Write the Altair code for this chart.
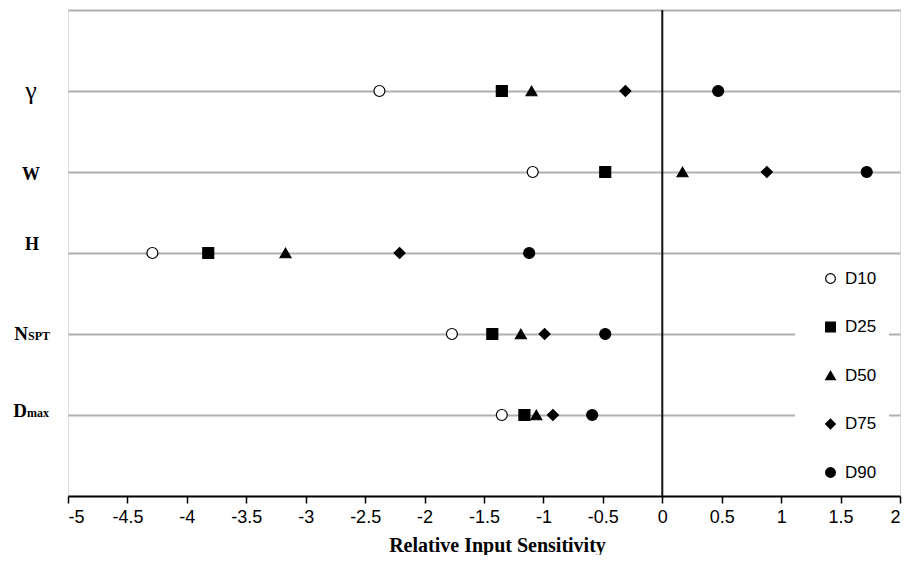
import altair as alt
import pandas as pd

# ---- data ----
params = ["γ", "W", "H", "NSPT", "Dmax"]
rows = [5, 4, 3, 2, 1]
series = ["D10", "D25", "D50", "D75", "D90"]
d10 = [-2.38, -1.09, -4.29, -1.77, -1.35]
d25 = [-1.35, -0.48, -3.82, -1.43, -1.16]
d50 = [-1.10, 0.17, -3.17, -1.19, -1.06]
d75 = [-0.31, 0.88, -2.21, -0.99, -0.92]
d90 = [0.47, 1.72, -1.12, -0.48, -0.59]
x_ticks = [-5, -4.5, -4, -3.5, -3, -2.5, -2, -1.5, -1, -0.5, 0, 0.5, 1, 1.5, 2]
grid_rows = [1, 2, 3, 4, 5, 6]
main_labels = ["γ", "W", "H", "N", "D"]
sub_labels = ["", "", "", "SPT", "max"]

records = []
for s, vals in zip(series, [d10, d25, d50, d75, d90]):
    for p, r, v in zip(params, rows, vals):
        records.append({"param": p, "row": r, "series": s, "value": v})
df = pd.DataFrame(records)
lab_df = pd.DataFrame({"main": main_labels, "sub": sub_labels, "row": rows})
zero_df = pd.DataFrame({"zero": [0]})

x_scale = alt.Scale(domain=[-5, 2], nice=False, zero=False)
y_scale = alt.Scale(domain=[0, 6], nice=False, zero=False)

legend = alt.Legend(
    title=None, orient="none", legendX=727, legendY=248, direction="vertical",
    fillColor="white", padding=12, symbolOffset=15, rowPadding=30.5,
    labelFont="Liberation Sans", labelFontSize=17, labelColor="black", labelOffset=6,
    symbolSize=95, symbolStrokeColor="black", symbolStrokeWidth=1.2,
    symbolOpacity=1, zindex=1,
)

points = alt.Chart(df).mark_point(
    filled=True, opacity=1, size=120, strokeWidth=1.2
).encode(
    x=alt.X("value:Q", scale=x_scale, axis=alt.Axis(
        values=x_ticks, title="Relative Input Sensitivity", grid=False,
        labelExpr="datum.value + ''",
        domainColor="black", domainWidth=2, tickColor="black", tickWidth=1.5, tickSize=7,
        labelFont="Liberation Sans", labelFontSize=18, labelColor="black", labelPadding=5,
        titleFont="Liberation Serif", titleFontSize=20, titleFontWeight="bold",
        titleColor="black", titleX=429, titleY=55, titleBaseline="alphabetic",
        titleAlign="center", titleAnchor="start",
    )),
    y=alt.Y("row:Q", scale=y_scale, axis=alt.Axis(
        values=grid_rows, grid=True, gridColor="#b0b0b0", gridWidth=2,
        labels=False, ticks=False, domain=False, title=None,
    )),
    shape=alt.Shape("series:N", scale=alt.Scale(
        domain=series, range=["circle", "square", "triangle-up", "diamond", "circle"]),
        legend=legend),
    fill=alt.Fill("series:N", scale=alt.Scale(
        domain=series, range=["white", "black", "black", "black", "black"]),
        legend=legend),
    stroke=alt.Stroke("series:N", scale=alt.Scale(
        domain=series, range=["black", "black", "black", "black", "black"]),
        legend=legend),
)

zero_rule = alt.Chart(zero_df).mark_rule(color="#111111", strokeWidth=2).encode(
    x=alt.X("zero:Q", scale=x_scale)
)

# per-label text styles: (main, xpx, align, font size, weight, dy)
label_styles = [
    ("γ", -37, "center", 26, "normal", 8),
    ("W", -37, "center", 18, "bold", 8),
    ("H", -36, "center", 18, "bold", -3),
    ("N", -40, "right", 19, "bold", 6),
    ("D", -41, "right", 19, "bold", 2),
]
label_layers = []
for m, xp, al, fs, fw, dy in label_styles:
    base = alt.Chart(lab_df).transform_filter(alt.datum.main == m)
    label_layers.append(
        base.mark_text(font="Liberation Serif", fontSize=fs, fontWeight=fw,
                       align=al, baseline="alphabetic", dy=dy, color="black")
        .encode(x=alt.value(xp), y=alt.Y("row:Q", scale=y_scale), text="main:N")
    )
    if al == "right":
        label_layers.append(
            base.mark_text(font="Liberation Serif", fontSize=12, fontWeight="bold",
                           align="left", baseline="alphabetic", dy=dy, color="black")
            .encode(x=alt.value(xp), y=alt.Y("row:Q", scale=y_scale), text="sub:N")
        )

chart = alt.layer(zero_rule, points, *label_layers).properties(
    width=832, height=486,
    autosize=alt.AutoSizeParams(type="none"),
    padding={"left": 60, "top": 2, "right": 11, "bottom": 59},
).configure_view(stroke=None).configure(background="white")

chart.save("out.html", embed_options={"renderer": "svg", "actions": False})
